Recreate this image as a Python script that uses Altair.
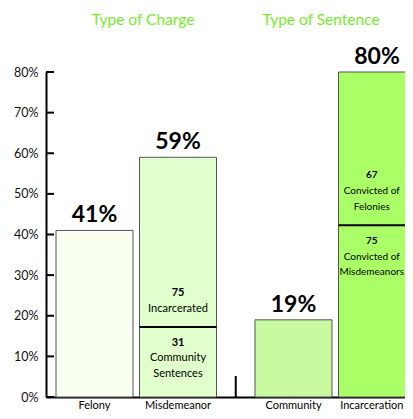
import altair as alt
import pandas as pd

# ---- data ----
categories = ["Felony", "Misdemeanor", "Community", "Incarceration"]
groups = ["Type of Charge", "Type of Charge", "Type of Sentence", "Type of Sentence"]
percents = [41, 59, 19, 80]

split_bars = ["Misdemeanor", "Incarceration"]
lower_counts = [31, 75]
upper_counts = [75, 67]
lower_labels = [["Community", "Sentences"], ["Convicted of", "Misdemeanors"]]
upper_labels = [["Incarcerated"], ["Convicted of", "Felonies"]]

y_ticks = [0, 10, 20, 30, 40, 50, 60, 70, 80]

# ---- style / layout ----
fills = ["#f8fff0", "#e0ffcc", "#c8f8a0", "#aaff66"]
title_green = "#77ea2e"
FONT = "Lato"
SVG_W, SVG_H = 397, 403
PAD_L, PAD_T = 38, 64
PLOT_H = 325
PLOT_W = SVG_W - PAD_L
PAD_B = SVG_H - PAD_T - PLOT_H
Y_MAX = 80
BAR_W = 77
STEP = 83.5
GROUP_SHIFT = 199
FIRST = 10
PX_PER_UNIT = PLOT_H / Y_MAX
TXT_SIZE = 11

group_names = ["Type of Charge", "Type of Sentence"]
rows = []
within = {}
for cat, grp, pct in zip(categories, groups, percents):
    g = group_names.index(grp)
    i = within.get(grp, 0)
    within[grp] = i + 1
    x0 = FIRST + g * GROUP_SHIFT + i * STEP
    x1 = x0 + BAR_W
    vis_w = min(x1, PLOT_W) - x0
    vis_c = x0 + vis_w / 2  # centre of the visible part of the bar
    rows.append(dict(cat=cat, grp=grp, pct=pct, x0=x0, x1=x1,
                     xc=x0 + BAR_W / 2, vc=vis_c, vw=vis_w, label=f"{pct}%"))
bars = pd.DataFrame(rows)
pos = {r["cat"]: r for r in rows}

# dividers and segment labels
div_rows, num_rows, txt_rows = [], [], []
for cat, lo, up, lo_lab, up_lab in zip(split_bars, lower_counts, upper_counts,
                                       lower_labels, upper_labels):
    r = pos[cat]
    split = r["pct"] * lo / (lo + up)
    div_rows.append(dict(x0=r["x0"], x1=r["x1"], split=split))
    # shrink text a little where the bar is cut by the chart edge
    fs = TXT_SIZE if r["vw"] >= BAR_W else TXT_SIZE - 1
    up_lines = [str(up)] + up_lab
    n = len(up_lines)
    for k, t in enumerate(up_lines):
        off = -18 - (n - 1 - k) * 16
        d = dict(xc=r["vc"], y=split - off / PX_PER_UNIT, text=t, fs=fs)
        (num_rows if k == 0 else txt_rows).append(d)
    lo_lines = [str(lo)] + lo_lab
    for k, t in enumerate(lo_lines):
        off = 16 + k * 15.5
        d = dict(xc=r["vc"], y=split - off / PX_PER_UNIT, text=t, fs=fs)
        (num_rows if k == 0 else txt_rows).append(d)
dividers = pd.DataFrame(div_rows)
nums = pd.DataFrame(num_rows)
txts = pd.DataFrame(txt_rows)

titles = pd.DataFrame({
    "grp": group_names,
    "tx": [pos["Misdemeanor"]["x0"] + 3.5, pos["Community"]["xc"] + 27.5],
})
sep = pd.DataFrame({"xs": [(pos["Misdemeanor"]["x1"] + pos["Community"]["x0"]) / 2]})
ticks = pd.DataFrame({"t": y_ticks})

xs = alt.Scale(domain=[0, PLOT_W], nice=False, zero=False)
ys = alt.Scale(domain=[0, Y_MAX], nice=False)

base_x_axis = alt.Axis(labels=False, ticks=False, title=None, grid=False,
                       domainColor="black", domainWidth=2)
y_axis = alt.Axis(values=y_ticks, labelExpr="datum.value + '%'", title=None,
                  ticks=False, grid=False, domainColor="black", domainWidth=2,
                  labelFont=FONT, labelFontSize=12.5, labelColor="#111",
                  labelPadding=8)

bar_layer = alt.Chart(bars).mark_rect(stroke="#555", strokeWidth=1).encode(
    x=alt.X("x0:Q", scale=xs, axis=base_x_axis),
    x2="x1:Q",
    y=alt.Y("pct:Q", scale=ys, axis=y_axis),
    y2=alt.datum(0),
    color=alt.Color("cat:N", scale=alt.Scale(domain=categories, range=fills), legend=None),
)

pct_labels = alt.Chart(bars).mark_text(
    dy=-8, baseline="alphabetic", font=FONT, fontSize=23, fontWeight="bold", color="#000"
).encode(x="xc:Q", y="pct:Q", text="label:N")

div_layer = alt.Chart(dividers).mark_rule(color="black", strokeWidth=2).encode(
    x="x0:Q", x2="x1:Q", y="split:Q")

num_layer = alt.Chart(nums).mark_text(
    baseline="middle", font=FONT, fontWeight="bold", color="#000"
).encode(x="xc:Q", y="y:Q", text="text:N", size=alt.Size("fs:Q", scale=None))

txt_layer = alt.Chart(txts).mark_text(
    baseline="middle", font=FONT, color="#000"
).encode(x="xc:Q", y="y:Q", text="text:N", size=alt.Size("fs:Q", scale=None))

title_layer = alt.Chart(titles).mark_text(
    baseline="middle", font=FONT, fontSize=15.5, color=title_green
).encode(x="tx:Q", y=alt.value(-52), text="grp:N")

xlab_layer = alt.Chart(bars).mark_text(
    baseline="top", font=FONT, fontSize=11, color="#000"
).encode(x="vc:Q", y=alt.value(PLOT_H + 3), text="cat:N")

sep_layer = alt.Chart(sep).mark_rule(color="black", strokeWidth=2).encode(
    x="xs:Q", y=alt.value(PLOT_H), y2=alt.value(PLOT_H - 21))

tick_layer = alt.Chart(ticks).mark_rule(color="black", strokeWidth=2).encode(
    y="t:Q", x=alt.value(0), x2=alt.value(8))

chart = alt.layer(
    bar_layer, div_layer, pct_labels, num_layer, txt_layer,
    title_layer, xlab_layer, sep_layer, tick_layer,
).properties(
    width=PLOT_W, height=PLOT_H,
    autosize=alt.AutoSizeParams(type="none"),
    padding={"left": PAD_L, "top": PAD_T, "right": 0, "bottom": PAD_B},
    background="white",
).configure_view(stroke=None)

chart.save("out.html", embed_options={"renderer": "svg", "actions": False})
